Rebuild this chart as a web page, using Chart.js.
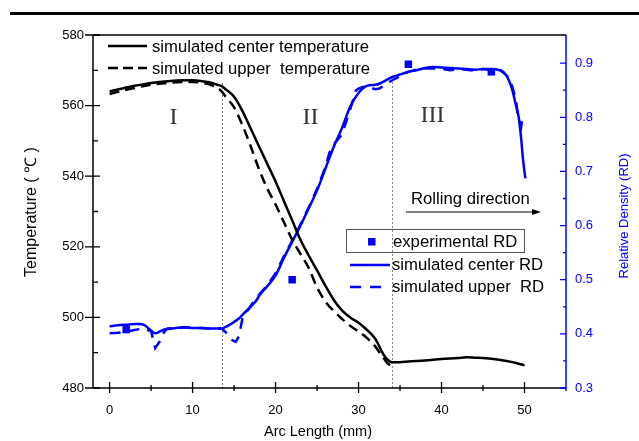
<!DOCTYPE html>
<html><head><meta charset="utf-8">
<script src="https://cdn.jsdelivr.net/npm/chart.js@4.4.1/dist/chart.umd.min.js"></script>
<style>html,body{margin:0;padding:0;background:#fff;overflow:hidden}#wrap{width:639px;height:441px;position:relative}</style>
</head><body><div id="wrap"><canvas id="c" width="639" height="441"></canvas></div>
<script>
// ---- tick labels ----
const xTickLabels = [0, 10, 20, 30, 40, 50];
const xMinorTicks = [5, 15, 25, 35, 45];
const tempTickLabels = [480, 500, 520, 540, 560, 580];
const tempMinorTicks = [490, 510, 530, 550, 570];
const rdTickLabels = [0.3, 0.4, 0.5, 0.6, 0.7, 0.8, 0.9];
const rdMinorTicks = [0.35, 0.45, 0.55, 0.65, 0.75, 0.85];

// ---- simulated center temperature (black solid) ----
const centerTempX = [0,1,2,3,4,5,6,7,8,9,10,11,12,13,13.5,14,15,16,17,18,19,20,21,22,23,24,25,26,27,28,29,30,31,32,33,33.5,34,35,36,38,40,42,43,44,46,48,49,50];
const centerTempY = [564.0,564.6,565.1,565.6,566.0,566.4,566.7,566.9,567.1,567.2,567.2,567.0,566.6,565.9,565.5,564.6,562.5,558.5,553.5,548.5,543.5,538.5,533.0,527.5,522.0,517.5,513.3,509.0,505.0,502.0,500.0,498.5,496.5,494.0,489.5,488.0,487.3,487.3,487.5,487.8,488.2,488.5,488.7,488.6,488.3,487.6,487.1,486.4];

// ---- simulated upper temperature (black dashed) ----
const upperTempX = [0,1,2,3,4,5,6,7,8,9,10,11,12,13,13.5,14,15,16,17,18,19,20,21,22,23,24,25,26,27,28,29,30,31,32,33,33.5,34];
const upperTempY = [563.3,563.9,564.5,565.0,565.5,565.9,566.2,566.4,566.6,566.7,566.7,566.5,566.0,565.0,564.0,562.5,559.5,554.5,548.5,542.0,536.5,532.0,527.0,522.0,518.0,514.0,508.5,504.5,501.8,499.6,497.6,496.0,494.2,491.8,488.5,487.0,486.2];

// ---- simulated center RD (blue solid) ----
const centerRdX = [0,1,2,3,3.6,4.2,5,5.5,6,6.6,7,8,9,10,11,12,13,13.5,14,14.5,15,15.7,16,17,17.7,18,19,20,21,22,23,24,25,26,27,28,29,30,31,32,32.5,33,34,35,36,37,38,39,40,41,42,43,44,45,46,47,47.5,48,48.5,49,49.3,49.6,49.8,50.1];
const centerRdY = [0.414,0.416,0.417,0.418,0.418,0.416,0.406,0.401,0.404,0.408,0.409,0.411,0.412,0.411,0.411,0.410,0.410,0.410,0.413,0.417,0.422,0.430,0.435,0.450,0.462,0.470,0.488,0.508,0.540,0.570,0.600,0.632,0.665,0.705,0.745,0.780,0.820,0.845,0.858,0.860,0.862,0.866,0.874,0.879,0.884,0.887,0.891,0.893,0.892,0.891,0.890,0.889,0.888,0.889,0.889,0.887,0.883,0.872,0.852,0.820,0.800,0.760,0.725,0.687];

// ---- simulated upper RD (blue dashed) ----
const upperRdX = [0,1,2,3,4,5,5.5,6,6.6,7,8,9,10,11,12,13,13.5,14.2,14.8,15.2,15.6,16,17,18,19,20,21,22,23,24,25,26,26.5,27,28,29,29.7,30,30.5,31,32,32.5,33,34,35,36,37,38,40,41,42,43,44,45,46,47,47.5,48,48.5,49,49.2,49.6,49.8];
const upperRdY = [0.401,0.402,0.404,0.407,0.410,0.405,0.374,0.385,0.404,0.410,0.411,0.412,0.411,0.411,0.410,0.410,0.410,0.400,0.388,0.385,0.396,0.428,0.452,0.472,0.490,0.512,0.543,0.572,0.602,0.634,0.668,0.708,0.735,0.750,0.768,0.815,0.850,0.853,0.856,0.857,0.852,0.853,0.858,0.868,0.876,0.884,0.888,0.890,0.890,0.887,0.889,0.888,0.886,0.889,0.887,0.888,0.882,0.875,0.858,0.830,0.800,0.783,0.805];

// ---- experimental RD (blue squares) ----
const expRdX = [2, 22, 36, 46];
const expRdY = [0.408, 0.500, 0.898, 0.884];

// ---- region boundaries / labels ----
const regionBounds = [13.5, 34];
const regionBoundTop = [566.4, 566.7];
const regionNames = ['I', 'II', 'III'];
const regionNameX = [7.7, 24.2, 38.9];
const regionNameY = [556.5, 556.5, 557.0];

const pts = (xs, ys) => xs.map((v, i) => ({x: v, y: ys[i]}));
const BLUE = '#0000ff';
const SANS = "'Liberation Sans', Arial, sans-serif";

const decor = {
  id: 'decor',
  beforeDatasetsDraw(chart) {
    const {ctx, chartArea: a, scales: {x, yT}} = chart;
    ctx.save();
    ctx.strokeStyle = '#808080'; ctx.lineWidth = 1; ctx.setLineDash([2, 2]);
    regionBounds.forEach((v, i) => {
      const px = Math.round(x.getPixelForValue(v)) + 0.5;
      ctx.beginPath(); ctx.moveTo(px, yT.getPixelForValue(regionBoundTop[i])); ctx.lineTo(px, a.bottom); ctx.stroke();
    });
    ctx.setLineDash([]);
    ctx.fillStyle = '#333'; ctx.font = "24px 'Liberation Serif', 'Times New Roman', serif";
    ctx.textAlign = 'center'; ctx.textBaseline = 'middle';
    regionNames.forEach((n, i) => ctx.fillText(n, x.getPixelForValue(regionNameX[i]), yT.getPixelForValue(regionNameY[i])));
    ctx.restore();
  },
  afterDraw(chart) {
    const {ctx, chartArea: a, scales: {x, yT, yR}} = chart;
    ctx.save();
    // top rule
    ctx.fillStyle = '#000'; ctx.fillRect(10, 12, 629, 3);
    // frame
    ctx.lineWidth = 1.5; ctx.strokeStyle = '#000';
    ctx.beginPath();
    ctx.moveTo(a.left, a.top); ctx.lineTo(a.right, a.top);
    ctx.moveTo(a.left, a.top); ctx.lineTo(a.left, a.bottom);
    ctx.moveTo(a.left, a.bottom); ctx.lineTo(a.right, a.bottom);
    ctx.stroke();
    ctx.strokeStyle = BLUE;
    ctx.beginPath(); ctx.moveTo(a.right, a.top); ctx.lineTo(a.right, a.bottom + 3); ctx.stroke();
    // ticks
    ctx.lineWidth = 1.3; ctx.strokeStyle = '#000';
    ctx.beginPath();
    xTickLabels.forEach(v => { const p = x.getPixelForValue(v); ctx.moveTo(p, a.bottom - 6); ctx.lineTo(p, a.bottom + 5); });
    xMinorTicks.forEach(v => { const p = x.getPixelForValue(v); ctx.moveTo(p, a.bottom - 3); ctx.lineTo(p, a.bottom + 3); });
    tempTickLabels.forEach(v => { const p = yT.getPixelForValue(v); ctx.moveTo(a.left - 8, p); ctx.lineTo(a.left + 7, p); });
    tempMinorTicks.forEach(v => { const p = yT.getPixelForValue(v); ctx.moveTo(a.left, p); ctx.lineTo(a.left + 5, p); });
    ctx.stroke();
    ctx.strokeStyle = BLUE;
    ctx.beginPath();
    rdTickLabels.forEach(v => { const p = yR.getPixelForValue(v); ctx.moveTo(a.right - 6, p); ctx.lineTo(a.right, p); });
    rdMinorTicks.forEach(v => { const p = yR.getPixelForValue(v); ctx.moveTo(a.right - 3, p); ctx.lineTo(a.right, p); });
    ctx.stroke();

    // axis titles
    ctx.textAlign = 'center'; ctx.textBaseline = 'middle';
    ctx.fillStyle = '#000'; ctx.font = '14.5px ' + SANS;
    ctx.fillText('Arc Length (mm)', 318, 432);
    ctx.save();
    ctx.translate(32, 212); ctx.rotate(-Math.PI / 2);
    ctx.font = '16px ' + SANS;
    ctx.fillText('Temperature ( ℃ )', 0, 0);
    ctx.restore();
    ctx.save();
    ctx.translate(624, 216); ctx.rotate(-Math.PI / 2);
    ctx.fillStyle = BLUE; ctx.font = '13px ' + SANS;
    ctx.fillText('Relative Density (RD)', 0, 0);
    ctx.restore();

    // legends
    ctx.font = '16.7px ' + SANS; ctx.textBaseline = 'middle'; ctx.textAlign = 'left'; ctx.fillStyle = '#000';
    const L = a.left;
    const line = (x0, x1, y, color, dash) => {
      ctx.save(); ctx.strokeStyle = color; ctx.lineWidth = 2.5; ctx.setLineDash(dash);
      ctx.beginPath(); ctx.moveTo(x0, y); ctx.lineTo(x1, y); ctx.stroke(); ctx.restore();
    };
    line(L + 15, L + 54, 46, '#000', []);
    ctx.fillText('simulated center temperature', L + 59, 47);
    line(L + 15, L + 54, 68, '#000', [10, 5]);
    ctx.fillText('simulated upper  temperature', L + 59, 69);

    ctx.lineWidth = 1; ctx.strokeStyle = '#555';
    ctx.strokeRect(346.5, 229.5, 178, 23);
    ctx.fillStyle = BLUE; ctx.fillRect(368, 238, 7.5, 7.5);
    ctx.fillStyle = '#000';
    ctx.fillText('experimental RD', 393, 242);
    line(350, 390, 265, BLUE, []);
    ctx.fillText('simulated center RD', 392, 265.5);
    line(350, 390, 287, BLUE, [11, 9]);
    ctx.fillText('simulated upper  RD', 392, 287.5);

    // rolling direction arrow
    ctx.fillText('Rolling direction', 411, 199);
    ctx.strokeStyle = '#000'; ctx.lineWidth = 1.2;
    ctx.beginPath(); ctx.moveTo(406, 212); ctx.lineTo(534, 212); ctx.stroke();
    ctx.beginPath(); ctx.moveTo(541, 212); ctx.lineTo(532, 209); ctx.lineTo(532, 215); ctx.closePath(); ctx.fill();
    ctx.restore();
  }
};

new Chart(document.getElementById('c'), {
  type: 'scatter',
  data: {
    datasets: [
      {label: 'experimental RD', data: pts(expRdX, expRdY), yAxisID: 'yR', showLine: false,
       pointStyle: 'rect', pointRadius: 5.3, backgroundColor: BLUE, borderColor: BLUE, borderWidth: 0},
      {label: 'simulated center temperature', data: pts(centerTempX, centerTempY), yAxisID: 'yT', showLine: true,
       borderColor: '#000', borderWidth: 2.5, pointRadius: 0, cubicInterpolationMode: 'monotone'},
      {label: 'simulated upper  temperature', data: pts(upperTempX, upperTempY), yAxisID: 'yT', showLine: true,
       borderColor: '#000', borderWidth: 2.5, borderDash: [10, 6], pointRadius: 0, cubicInterpolationMode: 'monotone'},
      {label: 'simulated center RD', data: pts(centerRdX, centerRdY), yAxisID: 'yR', showLine: true,
       borderColor: BLUE, borderWidth: 2.5, pointRadius: 0, cubicInterpolationMode: 'monotone'},
      {label: 'simulated upper  RD', data: pts(upperRdX, upperRdY), yAxisID: 'yR', showLine: true,
       borderColor: BLUE, borderWidth: 2.5, borderDash: [11, 8], pointRadius: 0, tension: 0}
    ]
  },
  options: {
    responsive: false, devicePixelRatio: 1, animation: false,
    layout: {padding: {top: 35, left: 0, right: 0, bottom: 0}},
    plugins: {legend: {display: false}, tooltip: {enabled: false}},
    scales: {
      x: {
        type: 'linear', position: 'bottom', min: -2, max: 55,
        afterBuildTicks: s => { s.ticks = xTickLabels.map(v => ({value: v})); },
        afterFit: s => { s.height = 53; },
        grid: {display: false, drawTicks: false}, border: {display: false},
        ticks: {padding: 15, color: '#000', font: {family: SANS, size: 13}, maxRotation: 0},
        title: {display: false}
      },
      yT: {
        type: 'linear', position: 'left', min: 480, max: 580,
        afterBuildTicks: s => { s.ticks = tempTickLabels.map(v => ({value: v})); },
        afterFit: s => { s.width = 93; },
        grid: {display: false, drawTicks: false}, border: {display: false},
        ticks: {padding: 9, color: '#000', font: {family: SANS, size: 13}},
        title: {display: false}
      },
      yR: {
        type: 'linear', position: 'right', min: 0.3, max: 0.952,
        afterBuildTicks: s => { s.ticks = rdTickLabels.map(v => ({value: v})); },
        afterFit: s => { s.width = 73; },
        grid: {display: false, drawTicks: false}, border: {display: false},
        ticks: {padding: 9, color: BLUE, font: {family: SANS, size: 13}, callback: v => Number(v).toFixed(1)}
      }
    }
  },
  plugins: [decor]
});
</script>
</body></html>
